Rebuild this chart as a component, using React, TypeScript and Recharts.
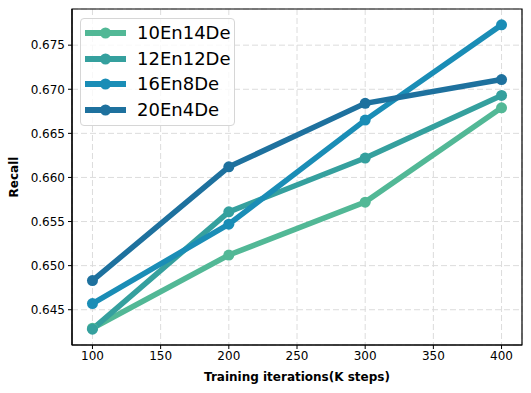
import React from 'react';
import { LineChart, Line, XAxis, YAxis, CartesianGrid, Legend, Label, ReferenceArea } from 'recharts';

// training steps (K)
const steps = [100, 200, 300, 400];

// recall values
const recall10En14De = [0.6429, 0.6512, 0.6572, 0.6679];
const recall12En12De = [0.6428, 0.6561, 0.6622, 0.6693];
const recall16En8De = [0.6457, 0.6547, 0.6665, 0.6773];
const recall20En4De = [0.6483, 0.6612, 0.6684, 0.6711];

const xTicks = [100, 150, 200, 250, 300, 350, 400];
const yTicks = [0.645, 0.65, 0.655, 0.66, 0.665, 0.67, 0.675];

const seriesNames = ['10En14De', '12En12De', '16En8De', '20En4De'];
const seriesColors = ['#52b896', '#35a09e', '#1a8db6', '#1e719e'];

const xDomain = [85, 415];
const yDomain = [0.641, 0.6791];

const chartData = steps.map((s, i) => ({
  step: s,
  '10En14De': recall10En14De[i],
  '12En12De': recall12En12De[i],
  '16En8De': recall16En8De[i],
  '20En4De': recall20En4De[i],
}));

const FONT = '"DejaVu Sans", sans-serif';

const LegendBox = () => (
  <div
    style={{
      width: 155,
      height: 108,
      border: '1px solid #d6d6d6',
      borderRadius: 4,
      background: 'rgba(255,255,255,0.8)',
      boxSizing: 'border-box',
      paddingTop: 1,
    }}
  >
    {seriesNames.map((name, i) => (
      <div key={name} style={{ display: 'flex', alignItems: 'center', height: 25.7 }}>
        <svg width={56} height={20} style={{ display: 'block' }}>
          <line x1={4} y1={10} x2={45} y2={10} stroke={seriesColors[i]} strokeWidth={6} />
          <circle cx={24.5} cy={10} r={5.5} fill={seriesColors[i]} />
        </svg>
        <span style={{ fontFamily: FONT, fontSize: 18, color: '#000', lineHeight: '20px' }}>{name}</span>
      </div>
    ))}
  </div>
);

export default function App() {
  return (
    <div style={{ position: 'absolute', left: 0, top: 0, background: '#fff' }}>
      <LineChart
        width={531}
        height={393}
        data={chartData}
        margin={{ top: 9, right: 9, left: 0, bottom: 0 }}
      >
        <CartesianGrid stroke="#dcdcdc" strokeDasharray="6 3" />
        <XAxis
          dataKey="step"
          type="number"
          domain={xDomain}
          ticks={xTicks}
          height={48}
          stroke="#000"
          tickSize={4}
          tickMargin={2}
          tick={{ fill: '#000', fontSize: 12, fontFamily: FONT }}
          tickLine={{ stroke: '#000' }}
          axisLine={{ stroke: '#000', strokeWidth: 1.2 }}
        >
          <Label
            content={({ viewBox }: any) => (
              <text
                x={viewBox.x + viewBox.width / 2}
                y={viewBox.y + 36}
                textAnchor="middle"
                fontFamily={FONT}
                fontSize={12}
                fontWeight="bold"
                fill="#000"
              >
                Training iterations(K steps)
              </text>
            )}
          />
        </XAxis>
        <YAxis
          type="number"
          domain={yDomain}
          ticks={yTicks}
          width={72}
          tickSize={4}
          tickMargin={3}
          allowDataOverflow
          tickFormatter={(v: number) => v.toFixed(3)}
          tick={{ fill: '#000', fontSize: 12, fontFamily: FONT }}
          tickLine={{ stroke: '#000' }}
          axisLine={{ stroke: '#000', strokeWidth: 1.2 }}
        >
          <Label
            content={({ viewBox }: any) => {
              const cx = viewBox.x + 18;
              const cy = viewBox.y + viewBox.height / 2;
              return (
                <text
                  x={cx}
                  y={cy}
                  transform={`rotate(-90, ${cx}, ${cy})`}
                  textAnchor="middle"
                  fontFamily={FONT}
                  fontSize={12}
                  fontWeight="bold"
                  fill="#000"
                >
                  Recall
                </text>
              );
            }}
          />
        </YAxis>
        {/* plot frame (top and right spines) */}
        <ReferenceArea
          x1={xDomain[0]}
          x2={xDomain[1]}
          y1={yDomain[0]}
          y2={yDomain[1]}
          fill="none"
          stroke="#000"
          strokeWidth={1.2}
          ifOverflow="extendDomain"
        />
        {seriesNames.map((name, i) => (
          <Line
            key={name}
            type="linear"
            dataKey={name}
            stroke={seriesColors[i]}
            strokeWidth={5.5}
            dot={{ r: 5.5, fill: seriesColors[i], stroke: seriesColors[i], strokeWidth: 0 }}
            isAnimationActive={false}
          />
        ))}
        <Legend
          layout="horizontal"
          verticalAlign="middle"
          align="center"
          content={() => <LegendBox />}
          wrapperStyle={{ position: 'absolute', left: 80, top: 18, width: 'auto', height: 'auto' }}
        />
      </LineChart>
    </div>
  );
}
